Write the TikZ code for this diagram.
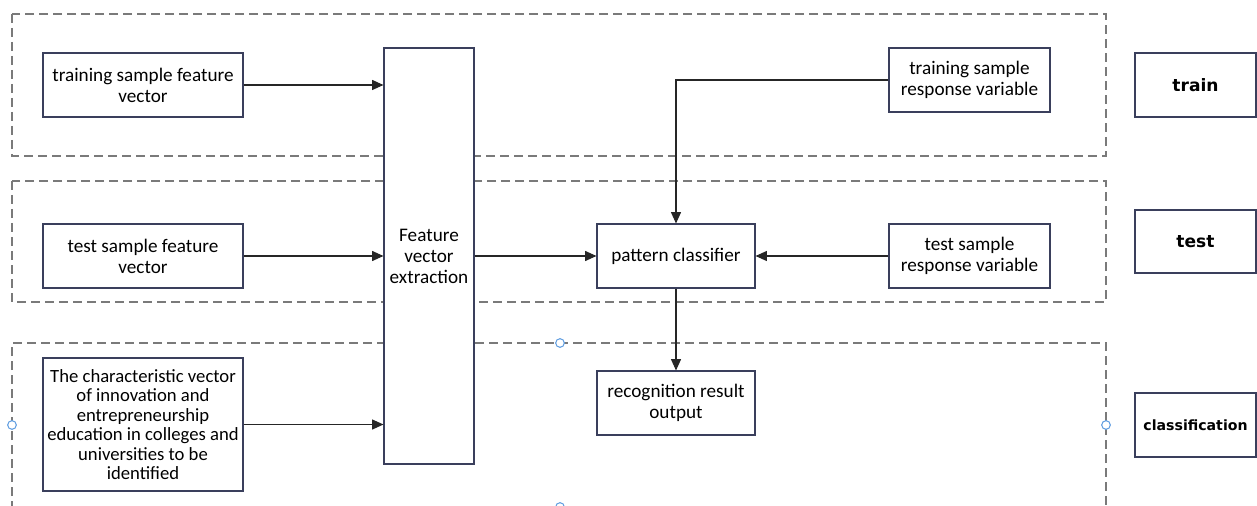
\documentclass[tikz,border=0pt]{standalone}
\usepackage{fontspec}
\setmainfont{Carlito}
\newfontfamily\labfont{DejaVu Sans}
\usetikzlibrary{arrows.meta}
\definecolor{boxline}{HTML}{3A3F5C}
\definecolor{dashgray}{HTML}{7A7A7A}
\definecolor{handle}{HTML}{5B9BE0}
\tikzset{
  box/.style={draw=boxline, line width=0.8pt, fill=white, align=center, inner sep=1pt,
    font=\fontsize{14.4}{15.75}\selectfont, minimum height=48pt},
  labbox/.style={box, font=\labfont\bfseries\fontsize{10.6}{12}\selectfont, minimum width=90.75pt},
  region/.style={draw=dashgray, line width=0.95pt, dash pattern=on 6.5pt off 4pt},
  arr/.style={draw=black!85, line width=0.8pt, -{Triangle[length=8.5pt,width=7.5pt]}},
  hdl/.style={draw=handle, fill=white, line width=0.75pt, circle, inner sep=0pt, minimum size=6.5pt}
}
\begin{document}
\begin{tikzpicture}[x=0.75pt,y=-0.75pt]
\useasboundingbox (0,0) rectangle (1257,506);
% dashed regions
\draw[region] (12,14) rectangle (1106,156);
\draw[region] (12,181) rectangle (1106,302);
\draw[region] (12,510) -- (12,343) -- (1106,343) -- (1106,510);
% boxes
\node[box, minimum width=150pt] (tsfv) at (143,85) {training sample feature\\vector};
\node[box, minimum width=67.5pt, minimum height=312pt] (fve) at (429,256) {Feature\\vector\\extraction};
\node[box, minimum width=150pt] (tesfv) at (143,256) {test sample feature\\vector};
\node[box, minimum width=150pt, minimum height=99.75pt, font=\fontsize{14}{14.6}\selectfont] (chr) at (143,424.5) {The characteristic vector\\of innovation and\\entrepreneurship\\education in colleges and\\universities to be\\identified};
\node[box, minimum width=118.5pt] (pc) at (676,256) {pattern classifier};
\node[box, minimum width=120.75pt] (tsrv) at (969.5,80) {training sample\\response variable};
\node[box, minimum width=120.75pt] (tesrv) at (969.5,256) {test sample\\response variable};
\node[box, minimum width=118.5pt] (rro) at (676,403) {recognition result\\output};
\node[labbox, font=\labfont\bfseries\fontsize{12.8}{14}\selectfont] (train) at (1195.5,85) {train};
\node[labbox, minimum height=47.25pt, font=\labfont\bfseries\fontsize{12.8}{14}\selectfont] (test) at (1195.5,241.5) {test};
\node[labbox] (cls) at (1195.5,425) {classification};
% connectors
\draw[arr] (tsfv.east) -- (tsfv.east -| fve.west);
\draw[arr] (tesfv.east) -- (tesfv.east -| fve.west);
\draw[arr] (chr.east) -- (chr.east -| fve.west);
\draw[arr] (fve.east |- pc.west) -- (pc.west);
\draw[arr] (tsrv.west) -| (pc.north);
\draw[arr] (tesrv.west) -- (pc.east);
\draw[arr] (pc.south) -- (rro.north);
% selection handles
\node[hdl] (h1) at (560,343) {};
\node[hdl] (h2) at (12,425) {};
\node[hdl] (h3) at (1106,425) {};
\node[hdl] (h4) at (560,507) {};
\end{tikzpicture}
\end{document}
